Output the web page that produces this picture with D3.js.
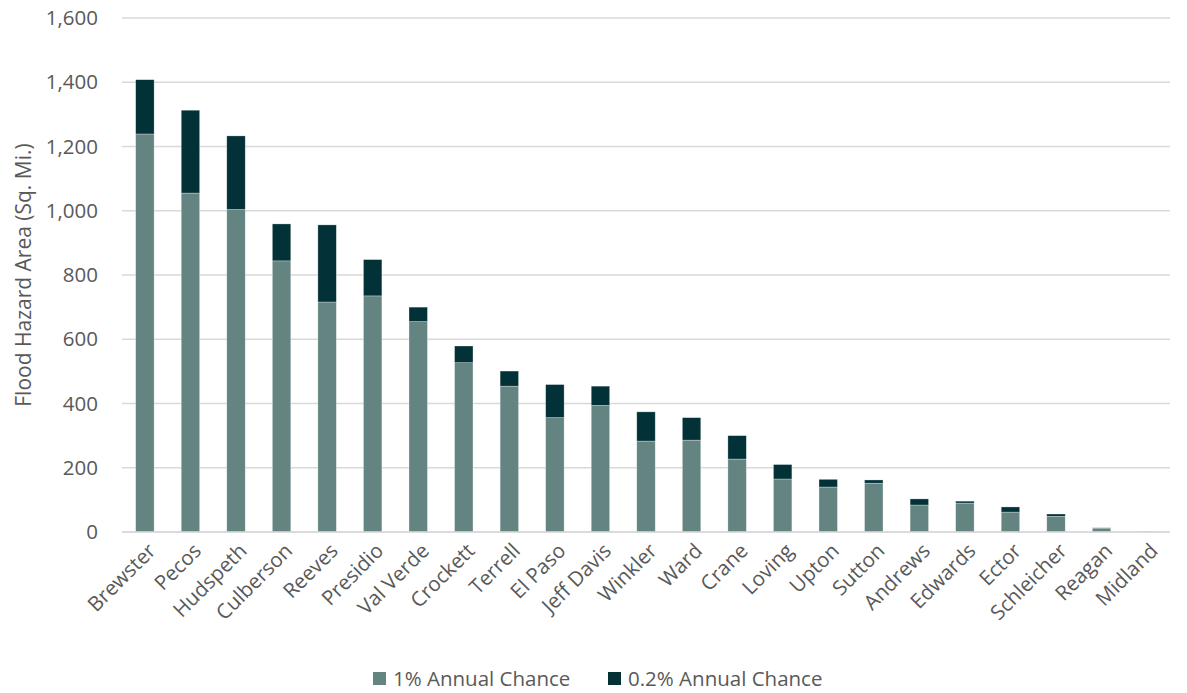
<!DOCTYPE html>
<html>
<head>
<meta charset="utf-8">
<script src="https://cdn.jsdelivr.net/npm/d3@7.9.0/dist/d3.min.js"></script>
<style>
  body { margin: 0; background: #fff; }
  text { font-family: "Open Sans", sans-serif; fill: #595959; }
</style>
</head>
<body>
<div id="chart"></div>
<script>
// Data
const counties = ["Brewster", "Pecos", "Hudspeth", "Culberson", "Reeves", "Presidio",
  "Val Verde", "Crockett", "Terrell", "El Paso", "Jeff Davis", "Winkler", "Ward",
  "Crane", "Loving", "Upton", "Sutton", "Andrews", "Edwards", "Ector", "Schleicher",
  "Reagan", "Midland"];
const pct1 = [1239, 1055, 1004, 844, 716, 735, 655, 527, 454, 356, 394, 283, 286,
  227, 165, 140, 152, 84, 90, 62, 49, 12, 2];
const pct02 = [169, 258, 229, 115, 240, 113, 45, 52, 47, 103, 60, 91, 70,
  73, 45, 24, 10, 19, 6, 16, 7, 1, 0];
const yTicks = [0, 200, 400, 600, 800, 1000, 1200, 1400, 1600];
const seriesNames = ["1% Annual Chance", "0.2% Annual Chance"];
const colors = ["#648481", "#023238"];

const width = 1187;
const height = 693;
const plotLeft = 122, plotRight = 1170, plotTop = 18, plotBottom = 532;
const fontSize = "20.5px";

const rows = counties.map((c, i) => ({ county: c, a: pct1[i], b: pct02[i] }));
const stacked = d3.stack().keys(["a", "b"])(rows);

const x = d3.scaleBand().domain(counties).range([plotLeft, plotRight]).paddingInner(0.595).paddingOuter(0.3);
const y = d3.scaleLinear().domain([0, 1600]).range([plotBottom, plotTop]);

const svg = d3.select("#chart").append("svg")
  .attr("width", width)
  .attr("height", height);

// gridlines
svg.append("g")
  .selectAll("line")
  .data(yTicks)
  .join("line")
  .attr("x1", plotLeft)
  .attr("x2", plotRight)
  .attr("y1", d => y(d))
  .attr("y2", d => y(d))
  .attr("stroke", "#d9d9d9")
  .attr("stroke-width", 1.3);

// y axis labels
const yAxis = svg.append("g")
  .attr("transform", `translate(${plotLeft},0)`)
  .call(d3.axisLeft(y).tickValues(yTicks).tickFormat(d3.format(",")).tickSize(0).tickPadding(24));
yAxis.select(".domain").remove();
yAxis.selectAll("text")
  .style("font-size", fontSize)
  .style("font-family", "'Open Sans', sans-serif")
  .attr("fill", "#595959");

// bars
svg.append("g")
  .selectAll("g")
  .data(stacked)
  .join("g")
  .attr("fill", (d, i) => colors[i])
  .selectAll("rect")
  .data(d => d)
  .join("rect")
  .attr("x", d => x(d.data.county))
  .attr("width", x.bandwidth())
  .attr("y", d => y(d[1]))
  .attr("height", d => y(d[0]) - y(d[1]))
  .attr("stroke", "#ffffff")
  .attr("stroke-opacity", 0.5)
  .attr("stroke-width", 0.6);

// x axis labels
const xAxis = svg.append("g")
  .attr("transform", `translate(0,${plotBottom})`)
  .call(d3.axisBottom(x).tickSize(0).tickPadding(0));
xAxis.select(".domain")
  .attr("stroke", "#d9d9d9")
  .attr("stroke-width", 1.3)
  .attr("d", `M${plotLeft},0H${plotRight}`);
xAxis.selectAll("text")
  .style("font-size", fontSize)
  .style("font-family", "'Open Sans', sans-serif")
  .attr("fill", "#595959")
  .attr("text-anchor", "end")
  .attr("dy", "0.35em")
  .attr("transform", "translate(7,15) rotate(-45)");

// y axis title
svg.append("text")
  .attr("transform", `translate(31,${(plotTop + plotBottom) / 2}) rotate(-90)`)
  .attr("text-anchor", "middle")
  .style("font-size", "21px")
  .text("Flood Hazard Area (Sq. Mi.)");

// legend
const legendItems = [{ x: 373, name: seriesNames[0], color: colors[0] },
  { x: 608, name: seriesNames[1], color: colors[1] }];
const legend = svg.append("g").selectAll("g")
  .data(legendItems)
  .join("g")
  .attr("transform", d => `translate(${d.x},672)`);
legend.append("rect")
  .attr("width", 13)
  .attr("height", 13)
  .attr("fill", d => d.color);
legend.append("text")
  .attr("x", 20)
  .attr("y", 7)
  .attr("dy", "0.35em")
  .style("font-size", fontSize)
  .text(d => d.name);
</script>
</body>
</html>
